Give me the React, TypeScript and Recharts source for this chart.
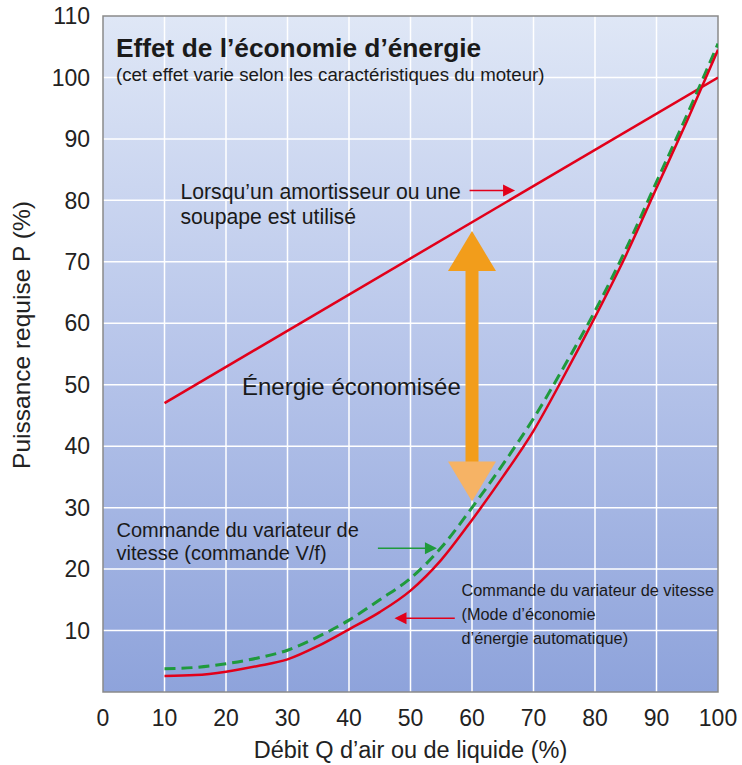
import { ComposedChart, Line, XAxis, YAxis, CartesianGrid, ReferenceLine, ReferenceDot, ReferenceArea } from "recharts";

const debit = [10, 15, 20, 25, 30, 35, 40, 45, 50, 55, 60, 65, 70, 75, 80, 85, 90, 95, 100];
const autoMode = [2.6, 2.75, 3.3, 4.2, 5.3, 7.5, 10.2, 13, 16.5, 21.5, 28, 35, 42.5, 51.5, 61, 71, 82, 93, 104.5];
const vfMode = [3.8, 4.0, 4.6, 5.5, 6.8, 9, 11.7, 15, 18.5, 23.5, 30, 37, 44.5, 53, 62, 72, 83, 94, 105.5];
const damperQ = [10, 100];
const damperP = [47, 100];

const xTicks = [0, 10, 20, 30, 40, 50, 60, 70, 80, 90, 100];
const yTicks = [10, 20, 30, 40, 50, 60, 70, 80, 90, 100, 110];

const curveData = debit.map((q, i) => ({ q, auto: autoMode[i], vf: vfMode[i] }));
const damperData = damperQ.map((q, i) => ({ q, damper: damperP[i] }));

const FONT = "'Liberation Sans', Arial, sans-serif";
const RED = "#e2001a";
const GREEN = "#1f9a3c";

// text anchored at a data point
function Note({ x, y, lines, size, weight, lh }: any) {
  return (
    <ReferenceDot
      x={x}
      y={y}
      r={0}
      ifOverflow="visible"
      shape={(p: any) => (
        <text x={p.cx} y={p.cy} fontFamily={FONT} fontSize={size} fontWeight={weight || "normal"} fill="#1a1a1a">
          {lines.map((l: string, i: number) => (
            <tspan key={i} x={p.cx} dy={i === 0 ? 0 : lh}>
              {l}
            </tspan>
          ))}
        </text>
      )}
    />
  );
}

function arrowShape(color: string) {
  return (p: any) => {
    const { x1, y1, x2, y2 } = p;
    const dir = x2 > x1 ? 1 : -1;
    return (
      <g>
        <line x1={x1} y1={y1} x2={x2 - dir * 10} y2={y2} stroke={color} strokeWidth={1.6} />
        <polygon points={`${x2},${y2} ${x2 - dir * 12},${y2 - 6} ${x2 - dir * 12},${y2 + 6}`} fill={color} />
      </g>
    );
  };
}

function doubleArrow(p: any) {
  const { x1, y1, y2 } = p;
  const top = Math.min(y1, y2);
  const bot = Math.max(y1, y2);
  const x = x1;
  const hh = 40;
  const hw = 24;
  return (
    <g>
      <rect x={x - 6.5} y={top + hh - 2} width={13} height={bot - top - 2 * hh + 4} fill="#f29d1b" />
      <polygon points={`${x},${top} ${x - hw},${top + hh} ${x + hw},${top + hh}`} fill="#f29d1b" />
      <polygon points={`${x},${bot} ${x - hw},${bot - hh} ${x + hw},${bot - hh}`} fill="#f6b365" />
    </g>
  );
}

function YTitle({ viewBox }: any) {
  const cy = viewBox.y + viewBox.height / 2 - 19;
  return (
    <text x={30} y={cy} transform={`rotate(-90 30 ${cy})`} textAnchor="middle" fontFamily={FONT} fontSize={24.5} fill="#222">
      Puissance requise P (%)
    </text>
  );
}

export default function App() {
  return (
    <div style={{ width: 742, height: 765, background: "#fff" }}>
      <style>{"body{margin:0}"}</style>
      <ComposedChart width={742} height={765} margin={{ top: 16, right: 24, left: 10, bottom: 0 }}>
        <defs>
          <linearGradient id="bg" x1="0" y1="0" x2="0" y2="1">
            <stop offset="0%" stopColor="#dfe7f6" />
            <stop offset="50%" stopColor="#b7c5ea" />
            <stop offset="100%" stopColor="#8ea3db" />
          </linearGradient>
        </defs>
        <CartesianGrid fill="url(#bg)" stroke="#ffffff" strokeWidth={1.5} horizontalValues={[10, 20, 30, 40, 50, 60, 70, 80, 90, 100]} verticalValues={[10, 20, 30, 40, 50, 60, 70, 80, 90]} />
        <XAxis
          type="number"
          dataKey="q"
          domain={[0, 100]}
          ticks={xTicks}
          allowDataOverflow
          axisLine={false}
          tickLine={false}
          tickSize={0}
          tickMargin={18}
          height={73}
          tick={{ fontSize: 23, fill: "#222", fontFamily: FONT }}
          label={{ value: "Débit Q d’air ou de liquide (%)", position: "insideBottom", offset: 7, fontSize: 23.5, fill: "#222", fontFamily: FONT }}
        />
        <YAxis
          type="number"
          domain={[0, 110]}
          ticks={yTicks}
          allowDataOverflow
          axisLine={false}
          tickLine={false}
          tickSize={0}
          tickMargin={13}
          width={93}
          tick={{ fontSize: 23, fill: "#222", fontFamily: FONT }}
          label={<YTitle />}
        />
        <ReferenceArea x1={0} x2={100} y1={0} y2={110} fill="none" stroke="#8a8a8a" strokeWidth={1.5} ifOverflow="visible" />
        <Line data={damperData} dataKey="damper" type="linear" stroke={RED} strokeWidth={2.5} dot={false} isAnimationActive={false} />
        <Line data={curveData} dataKey="vf" type="monotone" stroke={GREEN} strokeWidth={3} strokeDasharray="11 6" dot={false} isAnimationActive={false} />
        <Line data={curveData} dataKey="auto" type="monotone" stroke={RED} strokeWidth={2.5} dot={false} isAnimationActive={false} />

        <ReferenceLine segment={[{ x: 60, y: 75 }, { x: 60, y: 31 }]} ifOverflow="visible" shape={doubleArrow} />
        <ReferenceLine segment={[{ x: 59.6, y: 81.6 }, { x: 67, y: 81.6 }]} ifOverflow="visible" shape={arrowShape(RED)} />
        <ReferenceLine segment={[{ x: 44.7, y: 23.4 }, { x: 54.3, y: 23.4 }]} ifOverflow="visible" shape={arrowShape(GREEN)} />
        <ReferenceLine segment={[{ x: 57.2, y: 12 }, { x: 47.4, y: 12 }]} ifOverflow="visible" shape={arrowShape(RED)} />

        <Note x={2.1} y={103.4} lines={["Effet de l’économie d’énergie"]} size={26.3} weight="bold" lh={0} />
        <Note x={2.1} y={99.5} lines={["(cet effet varie selon les caractéristiques du moteur)"]} size={18.7} lh={0} />
        <Note x={12.6} y={80.3} lines={["Lorsqu’un amortisseur ou une", "soupape est utilisé"]} size={21.2} lh={25} />
        <Note x={22.6} y={48.4} lines={["Énergie économisée"]} size={24} lh={0} />
        <Note x={2.2} y={25.2} lines={["Commande du variateur de", "vitesse (commande V/f)"]} size={20} lh={23} />
        <Note x={58.3} y={15.6} lines={["Commande du variateur de vitesse", "(Mode d’économie", "d’énergie automatique)"]} size={16.3} lh={24} />
      </ComposedChart>
    </div>
  );
}
